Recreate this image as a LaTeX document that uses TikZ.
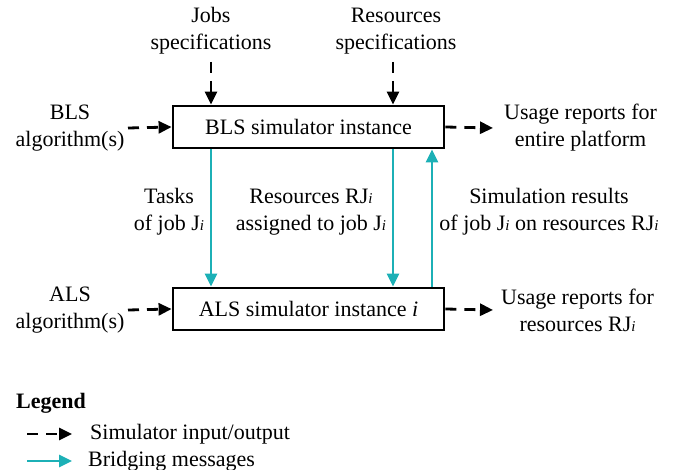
\documentclass[tikz,border=0pt]{standalone}
\usepackage{fontspec}
\setmainfont{Liberation Serif}
\usetikzlibrary{arrows.meta}
\definecolor{bridgeteal}{RGB}{28,176,182}
\newcommand{\subi}{{\fontsize{15}{15}\selectfont\itshape i}}

\begin{document}
\begin{tikzpicture}[x=1pt, y=-1pt,
    every node/.style={font=\fontsize{22}{27}\selectfont, inner sep=0pt, align=center},
    simbox/.style={draw, line width=2.8pt, minimum width=271pt, minimum height=42pt},
    simio/.style={line width=2.8pt, dash pattern=on 11pt off 8pt, -{Triangle[length=13pt, width=12pt]}},
    bridge/.style={bridgeteal, line width=2.8pt, -{Triangle[length=13pt, width=12pt]}}]

    \useasboundingbox (0,0) rectangle (674,470);

    % Nodes
    \node[simbox] (bls) at (308.5,127) {BLS simulator instance};
    \node[simbox] (als) at (308.5,309) {ALS simulator instance \textit{i}};
    \node (jobs) at (211,31) {Jobs\\specifications};
    \node (res) at (396,31) {Resources\\specifications};
    \node (blsalg) at (70,128) {BLS\\algorithm(s)};
    \node (alsalg) at (70,310) {ALS\\algorithm(s)};
    \node[anchor=west] (blsout) at (504,128) {Usage reports for\\entire platform};
    \node[anchor=west] (alsout) at (501,310) {Usage reports for\\resources RJ\subi};
    \node (tasks) at (169,212) {Tasks\\of job J\subi};
    \node (assign) at (311,212) {Resources RJ\subi\\assigned to job J\subi};
    \node (results) at (549,212) {Simulation results\\of job J\subi{} on resources RJ\subi};

    % Legend
    \node[anchor=west, font=\fontsize{22}{27}\selectfont\bfseries] (legend) at (16,403) {Legend};
    \coordinate (lg1a) at (27,434);
    \coordinate (lg1b) at (72,434);
    \coordinate (lg2a) at (27,461);
    \coordinate (lg2b) at (72,461);
    \node[anchor=west] (lgio) at (90,434) {Simulator input/output};
    \node[anchor=west] (lgbr) at (88,461) {Bridging messages};

    % Lines
    \coordinate (c1) at (211,0);
    \coordinate (c2) at (393,0);
    \coordinate (c3) at (432,0);
    \draw[simio] (jobs.south |- 0,62) -- (jobs.south |- bls.north);
    \draw[simio] (c2 |- 0,62) -- (c2 |- bls.north);
    \draw[simio] (0,128 -| 128,0) -- (bls.west);
    \draw[simio] (0,310 -| 128,0) -- (als.west);
    \draw[simio] (bls.east) -- ([xshift=-11pt]blsout.west);
    \draw[simio] (als.east) -- ([xshift=-8pt]alsout.west);
    \draw[bridge] (bls.south -| c1) -- (als.north -| c1);
    \draw[bridge] (bls.south -| c2) -- (als.north -| c2);
    \draw[bridge] (als.north -| c3) -- (bls.south -| c3);
    \draw[simio] (lg1a) -- (lg1b);
    \draw[bridge] (lg2a) -- (lg2b);

\end{tikzpicture}
\end{document}
